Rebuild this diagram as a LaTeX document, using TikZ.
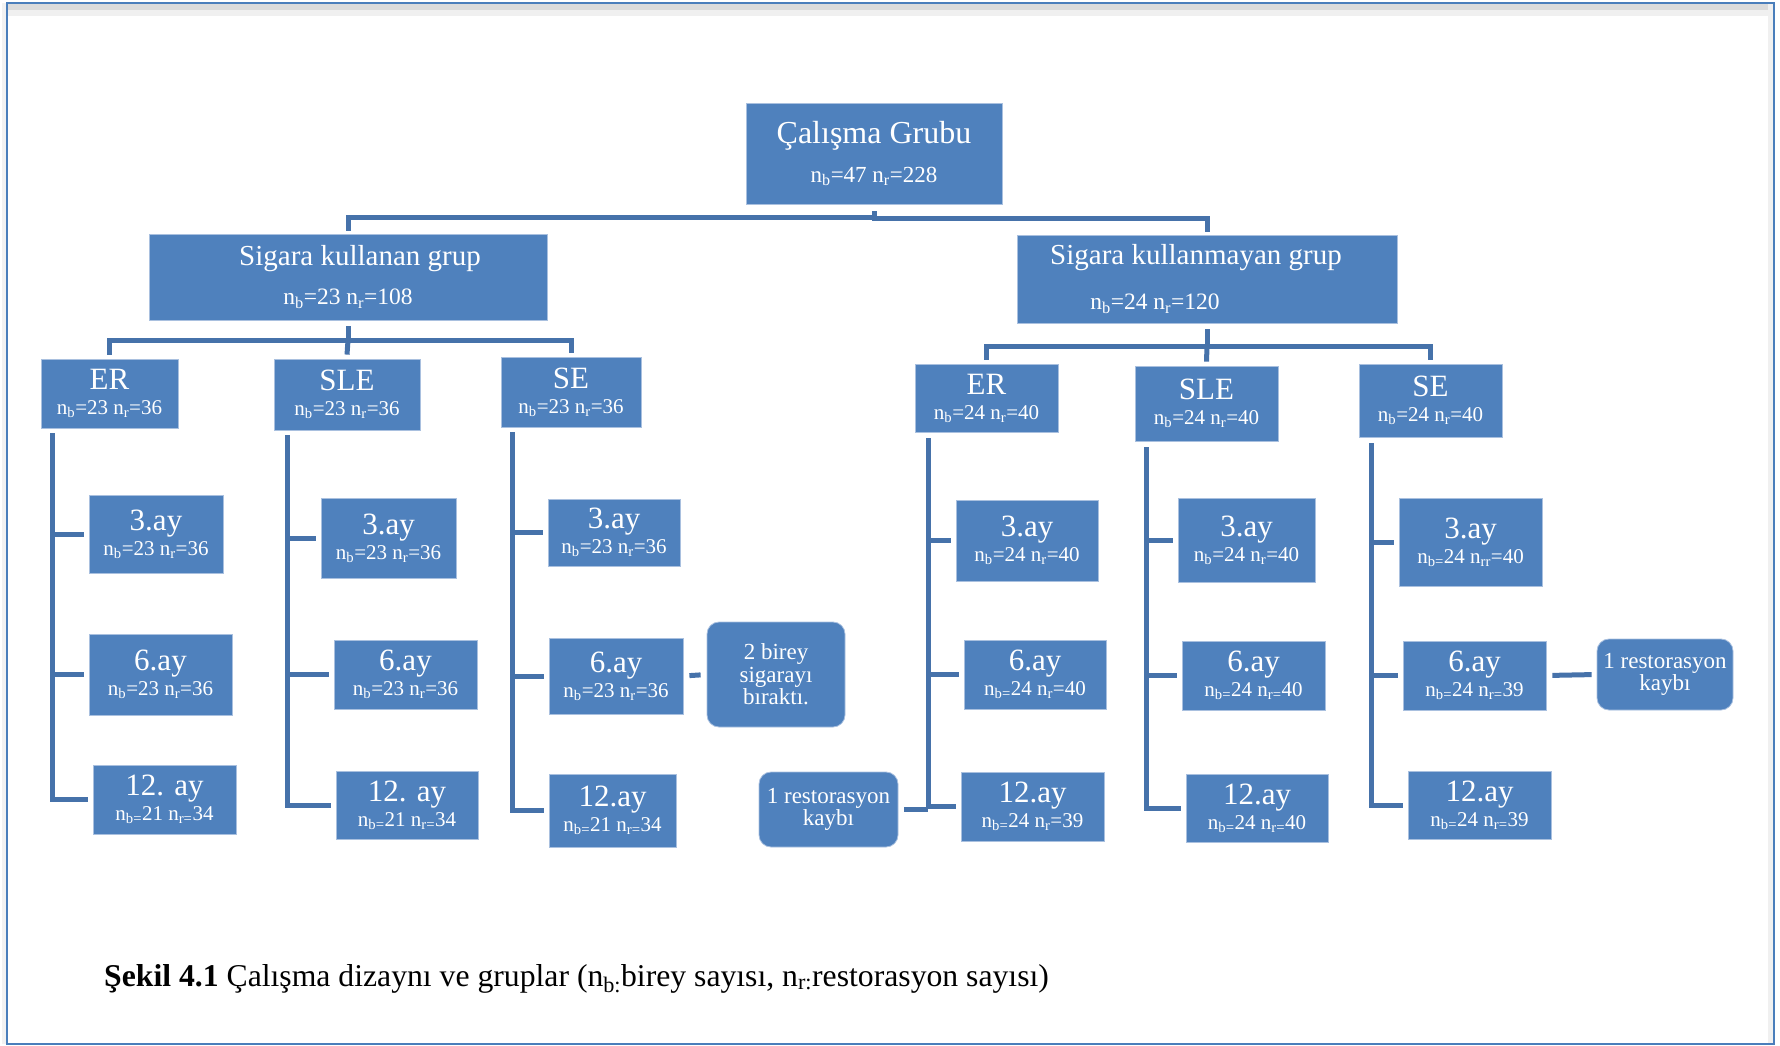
\documentclass[tikz,border=0pt]{standalone}
\usepackage{fontspec}
\setmainfont{Liberation Serif}
\definecolor{boxblue}{HTML}{4F81BD}
\definecolor{boxedge}{HTML}{A9C0DF}
\definecolor{linkblue}{HTML}{4672AA}
\definecolor{framblue}{HTML}{4A7EBB}
\newcommand{\fsz}[1]{\fontsize{#1}{#1}\selectfont}
\newcommand{\nbr}[4]{n\textsubscript{#1}#2 n\textsubscript{#3}#4}
\newcommand{\bx}[7]{\node[#6, minimum width={#3-#2}, minimum height={#5-#4}] (#1) at ({(#2+#3)/2},{(#4+#5)/2}) {#7};}
\tikzset{
  box/.style={fill=boxblue, draw=boxedge, line width=0.8pt, text=white, align=center, inner sep=0pt, font=\fontsize{21}{25}\selectfont},
  bigbox/.style={box, font=\fontsize{23.5}{39}\selectfont},
  notebox/.style={box, rounded corners=12pt, font=\fontsize{23}{22.5}\selectfont},
  link/.style={draw=linkblue, line width=5pt},
}
\begin{document}
\begin{tikzpicture}[x=1pt,y=-1pt]
\useasboundingbox (0,0) rectangle (1780,1046);
% frame
\fill[gray!28] (7,4) rectangle (1774,10);
\fill[gray!12] (7,10) rectangle (1774,16);
\fill[gray!10] (2,3) rectangle (6,1044);
\fill[gray!12] (1768,3) rectangle (1773,1044);
\draw[framblue, line width=2pt] (7,3) rectangle (1774,1044);

% top levels
\bx{root}{746}{1002}{103}{204}{bigbox, font=\fontsize{23}{39}\selectfont}{{\fsz{32}Çalışma Grubu}\\\nbr{b}{=47}{r}{=228}}
\bx{sk}{149}{547}{234}{320}{bigbox}{\hspace*{24pt}{\fsz{29}Sigara kullanan grup}\\\nbr{b}{=23}{r}{=108}}
\bx{skm}{1017}{1397}{235}{323}{bigbox, font=\fontsize{23.5}{45}\selectfont}{\hspace*{-22pt}{\fsz{29}Sigara kullanmayan grup}\\\hspace*{-104pt}\nbr{b}{=24}{r}{=120}}

\bx{erL}{41}{178}{359}{428}{box}{{\fsz{31}ER}\\\nbr{b}{=23}{r}{=36}}
\bx{sleL}{274}{420}{359}{430}{box}{{\fsz{31}SLE}\\\nbr{b}{=23}{r}{=36}}
\bx{seL}{501}{641}{357}{427}{box}{{\fsz{31}SE}\\\nbr{b}{=23}{r}{=36}}
\bx{erR}{915}{1058}{364}{432}{box}{{\fsz{31}ER}\\\nbr{b}{=24}{r}{=40}}
\bx{sleR}{1135}{1278}{366}{441}{box}{{\fsz{31}SLE}\\\nbr{b}{=24}{r}{=40}}
\bx{seR}{1359}{1502}{364}{437}{box}{{\fsz{31}SE}\\\nbr{b}{=24}{r}{=40}}

% left columns
\bx{L1a}{89}{223}{495}{573}{box}{{\fsz{31}3.ay}\\\nbr{b}{=23}{r}{=36}}
\bx{L1b}{89}{232}{634}{715}{box}{{\fsz{31}6.ay}\\\nbr{b}{=23}{r}{=36}}
\bx{L1c}{93}{236}{765}{834}{box}{{\fsz{31}12. ay}\\\nbr{b=}{21}{r=}{34}}
\bx{L2a}{321}{456}{498}{578}{box}{{\fsz{31}3.ay}\\\nbr{b}{=23}{r}{=36}}
\bx{L2b}{334}{477}{640}{709}{box}{{\fsz{31}6.ay}\\\nbr{b}{=23}{r}{=36}}
\bx{L2c}{336}{478}{771}{839}{box}{{\fsz{31}12. ay}\\\nbr{b=}{21}{r=}{34}}
\bx{L3a}{548}{680}{499}{566}{box}{{\fsz{31}3.ay}\\\nbr{b}{=23}{r}{=36}}
\bx{L3b}{549}{683}{638}{714}{box}{{\fsz{31}6.ay}\\\nbr{b}{=23}{r}{=36}}
\bx{L3c}{549}{676}{774}{847}{box}{{\fsz{31}12.ay}\\\nbr{b=}{21}{r=}{34}}
\bx{note1}{707}{845}{622}{727}{notebox}{2 birey\\sigarayı\\bıraktı.}
\bx{note2}{759}{898}{772}{847}{notebox}{1 restorasyon\\kaybı}

% right columns
\bx{R1a}{956}{1098}{500}{581}{box}{{\fsz{31}3.ay}\\\nbr{b}{=24}{r}{=40}}
\bx{R1b}{964}{1106}{640}{709}{box}{{\fsz{31}6.ay}\\\nbr{b=}{24}{r}{=40}}
\bx{R1c}{961}{1104}{772}{841}{box}{{\fsz{31}12.ay}\\\nbr{b=}{24}{r}{=39}}
\bx{R2a}{1178}{1315}{498}{582}{box}{{\fsz{31}3.ay}\\\nbr{b}{=24}{r}{=40}}
\bx{R2b}{1182}{1325}{641}{710}{box}{{\fsz{31}6.ay}\\\nbr{b=}{24}{r=}{40}}
\bx{R2c}{1186}{1328}{774}{842}{box}{{\fsz{31}12.ay}\\\nbr{b=}{24}{r=}{40}}
\bx{R3a}{1399}{1542}{498}{586}{box}{{\fsz{31}3.ay}\\\nbr{b=}{24}{rr}{=40}}
\bx{R3b}{1403}{1546}{641}{710}{box}{{\fsz{31}6.ay}\\\nbr{b=}{24}{r=}{39}}
\bx{R3c}{1408}{1551}{771}{839}{box}{{\fsz{31}12.ay}\\\nbr{b=}{24}{r=}{39}}
\bx{note3}{1597}{1733}{639}{710}{notebox}{1 restorasyon\\kaybı}

% connectors level 1
\draw[link] (root.south) ++(0,7) -- ++(0,6) -| ([yshift=3pt]sk.north);
\draw[link] (root.south) ++(0,7) -- ++(0,7) -| ([yshift=3pt]skm.north);
% level 2
\draw[link] (sk.south) ++(0,6) -- ++(0,14) coordinate (hL);
\draw[link] (hL) -| ([yshift=4pt]erL.north);
\draw[link] (hL) -| ([yshift=4pt]seL.north);
\draw[link] (hL) -- ([yshift=4pt]sleL.north);
\draw[link] (skm.south) ++(0,6) -- ++(0,17) coordinate (hR);
\draw[link] (hR) -| ([yshift=4pt]erR.north);
\draw[link] (hR) -| ([yshift=4pt]seR.north);
\draw[link] (hR) -- ([yshift=4pt]sleR.north);

% column bars
\coordinate (vL1) at (52,433);
\coordinate (vL2) at (287,435);
\coordinate (vL3) at (512,432);
\coordinate (vR1) at (928,438);
\coordinate (vR2) at (1146,447);
\coordinate (vR3) at (1371,443);
\foreach \v/\a/\b/\c in {vL1/L1a/L1b/L1c, vL2/L2a/L2b/L2c, vL3/L3a/L3b/L3c, vR1/R1a/R1b/R1c, vR2/R2a/R2b/R2c, vR3/R3a/R3b/R3c}{
  \draw[link] (\v) |- ([xshift=-5pt]\c.west);
  \draw[link] (\v |- \a.west) -- ([xshift=-5pt]\a.west);
  \draw[link] (\v |- \b.west) -- ([xshift=-5pt]\b.west);
}
% notes
\draw[link, shorten <=6pt, shorten >=6pt] (L3b.east) -- (note1.west);
\draw[link, shorten <=6pt] (note2.east) -- (vR1 |- note2.east);
\draw[link, shorten <=6pt, shorten >=5pt] (R3b.east) -- (note3.west);

% caption
\node[anchor=base west, font=\fontsize{31.7}{36}\selectfont, inner sep=0pt] (cap) at (104,986) {\textbf{Şekil 4.1} Çalışma dizaynı ve gruplar (n\textsubscript{b:}birey sayısı, n\textsubscript{r:}restorasyon sayısı)};
\end{tikzpicture}
\end{document}
